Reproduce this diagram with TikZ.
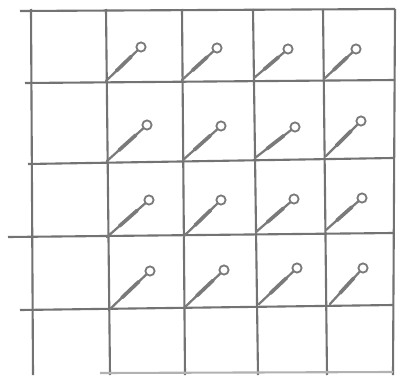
\documentclass[tikz,border=0pt]{standalone}
\usetikzlibrary{calc}
\newcommand\pinAt[4]{%
  \coordinate (ps) at (#1,#2);
  \coordinate (pl) at (#3,#4);
  \draw[pinbody] (ps) -- ($(pl)!0.12cm!(ps)$);
  \draw[pinbody, line width=2.6pt] ($(ps)!0.3!(pl)$) -- ($(ps)!0.72!(pl)$);
  \draw[pinloop] (pl) circle (0.115cm);
}
\begin{document}
\begin{tikzpicture}[x=0.025cm,y=-0.025cm,
  gridline/.style={line width=1.5pt, draw=black!55},
  pinbody/.style={line width=1.6pt, draw=black!52, line cap=round},
  pinloop/.style={line width=1.3pt, draw=black!52}]
\fill[white] (0,0) rectangle (400,375);
\useasboundingbox (0,0) rectangle (400,375);
% vertical lines
\draw[gridline] (31,9) -- (33,375);
\draw[gridline] (106,9) -- (110,375);
\draw[gridline] (182,9) -- (185,375);
\draw[gridline] (253,9) -- (258,375);
\draw[gridline] (323,9) -- (327,375);
\draw[gridline] (395,9) -- (393,375);
% horizontal lines
\draw[gridline] (20,11) -- (395,9);
\draw[gridline] (25,83) -- (395,80);
\draw[gridline] (28,164) -- (393,158);
\draw[gridline] (8,237) -- (393,233);
\draw[gridline] (20,310) -- (393,305);
\draw[gridline, draw=black!30] (100,373) -- (393,372);
% pins
\pinAt{106}{81}{141}{47}
\pinAt{182}{80}{217}{48}
\pinAt{254}{78}{288}{49}
\pinAt{324}{79}{356}{49}
\pinAt{107}{161}{147}{125}
\pinAt{183}{160}{221}{126}
\pinAt{255}{158}{295}{127}
\pinAt{326}{156}{361}{121}
\pinAt{107}{237}{149}{200}
\pinAt{184}{236}{221}{200}
\pinAt{256}{232}{294}{199}
\pinAt{326}{230}{362}{198}
\pinAt{110}{309}{150}{271}
\pinAt{185}{307}{224}{270}
\pinAt{259}{304}{297}{268}
\pinAt{330}{304}{363}{268}
\end{tikzpicture}
\end{document}
